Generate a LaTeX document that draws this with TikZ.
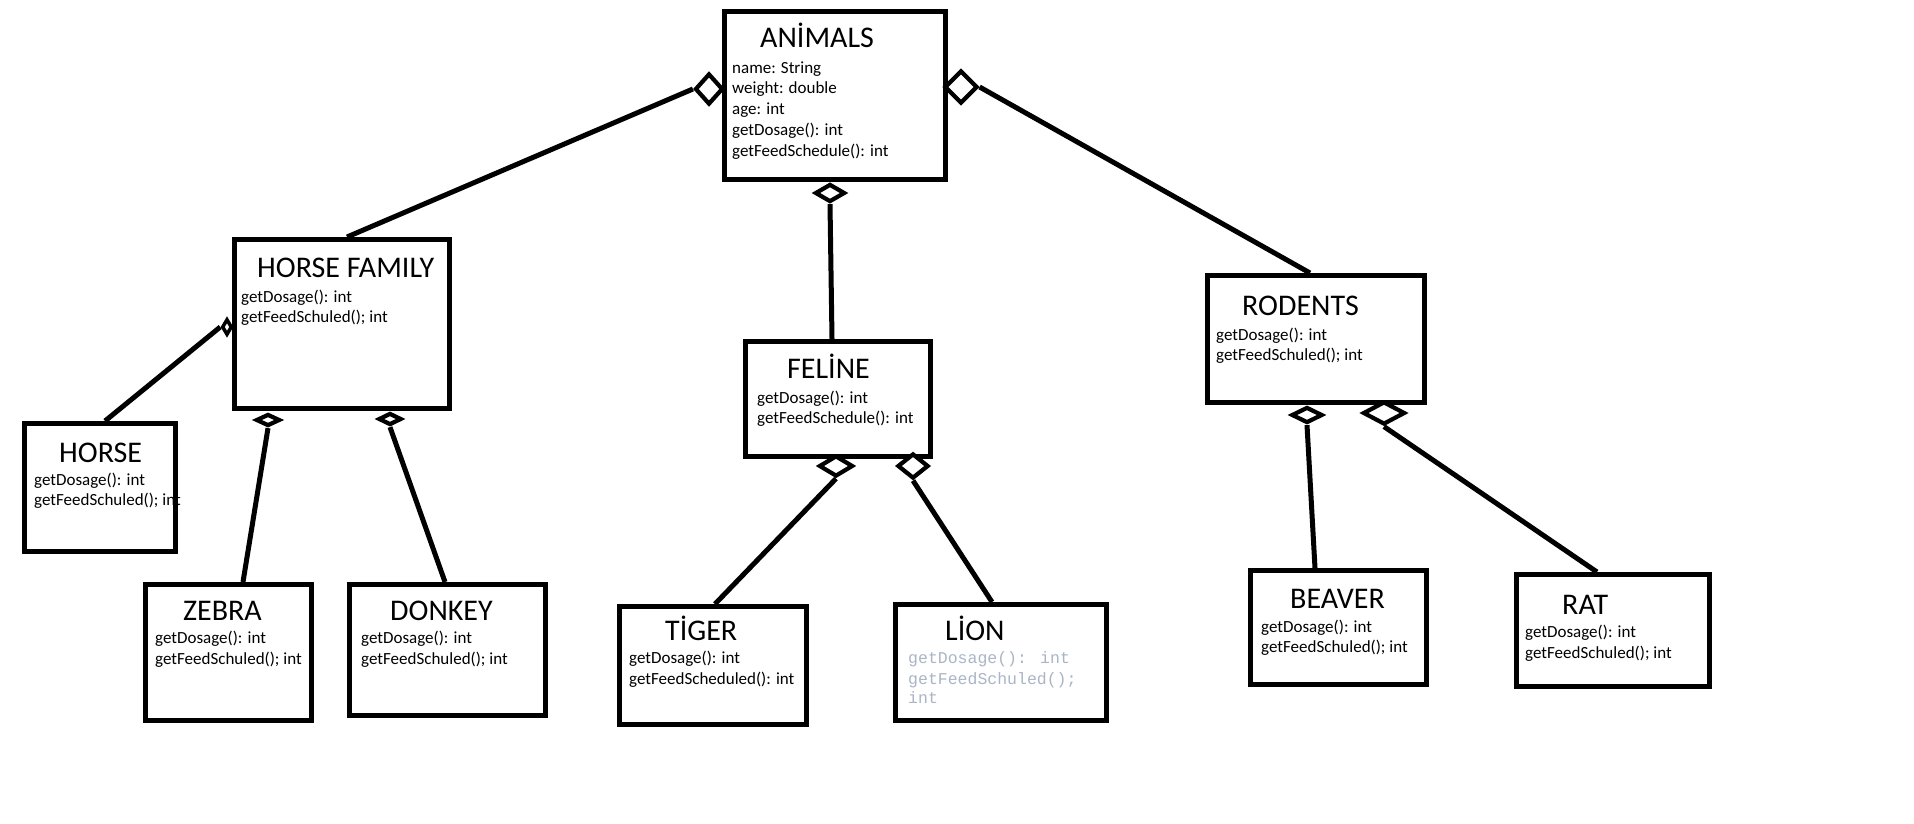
\documentclass[tikz,border=0pt]{standalone}
\usepackage{fontspec}
\setmainfont{Carlito}
\newfontfamily\lionmono{Liberation Mono}
\usetikzlibrary{shapes.geometric}
\definecolor{liongray}{RGB}{170,181,198}
\begin{document}
\begin{tikzpicture}[x=1pt,y=-1pt,
  box/.style={draw, line width=5pt, rectangle, inner sep=0pt},
  agg/.style={draw, diamond, line width=4.2pt, inner sep=0pt, fill=white},
  conn/.style={line width=5pt},
  ttl/.style={anchor=base west, inner sep=0pt, font=\fontsize{30}{34}\selectfont},
  attr/.style={anchor=base west, inner sep=0pt, font=\fontsize{17}{21}\selectfont},
  monoattr/.style={anchor=base west, inner sep=0pt, text=liongray, font=\lionmono\fontsize{16.5}{20}\selectfont},
]
\useasboundingbox[fill=white] (0,0) rectangle (1914,823);

% ---------- texts ----------
\node[ttl] (tA) at (760,47) {ANİMALS};
\node[attr] (a1) at (732,73) {name: String};
\node[attr] (a2) at (732,93.75) {weight: double};
\node[attr] (a3) at (732,114.5) {age: int};
\node[attr] (a4) at (732,135.25) {getDosage(): int};
\node[attr] (a5) at (732,156) {getFeedSchedule(): int};

\node[ttl] (tHF) at (257,277) {HORSE FAMILY};
\node[attr] (hf1) at (241,302) {getDosage(): int};
\node[attr] (hf2) at (241,322) {getFeedSchuled(); int};

\node[ttl] (tH) at (59,462) {HORSE};
\node[attr] (h1) at (34,485) {getDosage(): int};
\node[attr] (h2) at (34,505) {getFeedSchuled(); int};

\node[ttl] (tZ) at (183,620) {ZEBRA};
\node[attr] (z1) at (155,643) {getDosage(): int};
\node[attr] (z2) at (155,664) {getFeedSchuled(); int};

\node[ttl] (tD) at (390,620) {DONKEY};
\node[attr] (k1) at (361,643) {getDosage(): int};
\node[attr] (k2) at (361,664) {getFeedSchuled(); int};

\node[ttl] (tF) at (787,378) {FELİNE};
\node[attr] (f1) at (757,403) {getDosage(): int};
\node[attr] (f2) at (757,423) {getFeedSchedule(): int};

\node[ttl] (tT) at (665,640) {TİGER};
\node[attr] (t1) at (629,663) {getDosage(): int};
\node[attr] (t2) at (629,684) {getFeedScheduled(): int};

\node[ttl] (tL) at (945,640) {LİON};
\node[monoattr] (l1) at (908,663) {getDosage(): int};
\node[monoattr] (l2) at (908,684) {getFeedSchuled();};
\node[monoattr] (l3) at (908,703) {int};

\node[ttl] (tR) at (1242,315) {RODENTS};
\node[attr] (r1) at (1216,340) {getDosage(): int};
\node[attr] (r2) at (1216,360) {getFeedSchuled(); int};

\node[ttl] (tB) at (1290,608) {BEAVER};
\node[attr] (b1) at (1261,632) {getDosage(): int};
\node[attr] (b2) at (1261,652) {getFeedSchuled(); int};

\node[ttl] (tRa) at (1562,614) {RAT};
\node[attr] (ra1) at (1525,637) {getDosage(): int};
\node[attr] (ra2) at (1525,658) {getFeedSchuled(); int};

% ---------- boxes ----------
\node[box, minimum width=221pt, minimum height=168pt] (animals) at (835,95.5) {};
\node[box, minimum width=215pt, minimum height=169pt] (horsefam) at (342,324) {};
\node[box, minimum width=151pt, minimum height=128pt] (horse) at (100,487.5) {};
\node[box, minimum width=166pt, minimum height=136pt] (zebra) at (228.5,652.5) {};
\node[box, minimum width=196pt, minimum height=131pt] (donkey) at (447.5,650) {};
\node[box, minimum width=185pt, minimum height=115pt] (feline) at (838,399) {};
\node[box, minimum width=187pt, minimum height=118pt] (tiger) at (713,665.5) {};
\node[box, minimum width=211pt, minimum height=116pt] (lion) at (1001,662.5) {};
\node[box, minimum width=217pt, minimum height=127pt] (rodents) at (1316,339) {};
\node[box, minimum width=176pt, minimum height=114pt] (beaver) at (1338.5,627.5) {};
\node[box, minimum width=193pt, minimum height=112pt] (rat) at (1613,630.5) {};

% ---------- aggregation diamonds ----------
\node[agg, minimum width=28pt, minimum height=31pt] (dAl) at (709,89) {};
\node[agg, minimum width=33pt, minimum height=33pt] (dAr) at (961,87) {};
\node[agg, minimum width=30pt, minimum height=18pt] (dAb) at (830,193) {};
\node[agg, line width=3.5pt, minimum width=10pt, minimum height=16pt] (dHl) at (227,327) {};
\node[agg, minimum width=24pt, minimum height=12pt] (dHb1) at (268,420) {};
\node[agg, minimum width=23pt, minimum height=12pt] (dHb2) at (390,419) {};
\node[agg, minimum width=34pt, minimum height=21pt] (dFb1) at (836,466) {};
\node[agg, minimum width=31pt, minimum height=25pt] (dFb2) at (913,466) {};
\node[agg, minimum width=31pt, minimum height=16pt] (dRb1) at (1307,415) {};
\node[agg, minimum width=42pt, minimum height=23pt] (dRb2) at (1384,413) {};

% ---------- connectors ----------
\draw[conn] (dAl.west) -- ([xshift=5pt]horsefam.north);
\draw[conn] (dAr.east) -- ([xshift=-6pt]rodents.north);
\draw[conn] (dAb.south) -- ([xshift=-6pt]feline.north);
\draw[conn] (dHl.west) -- ([xshift=5pt]horse.north);
\draw[conn] (dHb1.south) -- ([xshift=14.5pt]zebra.north);
\draw[conn] (dHb2.south) -- ([xshift=-2.5pt]donkey.north);
\draw[conn] (dFb1.south) -- ([xshift=2pt]tiger.north);
\draw[conn] (dFb2.south) -- ([xshift=-9pt]lion.north);
\draw[conn] (dRb1.south) -- ([xshift=-23.5pt]beaver.north);
\draw[conn] (dRb2.south) -- ([xshift=-16pt]rat.north);
\end{tikzpicture}
\end{document}
